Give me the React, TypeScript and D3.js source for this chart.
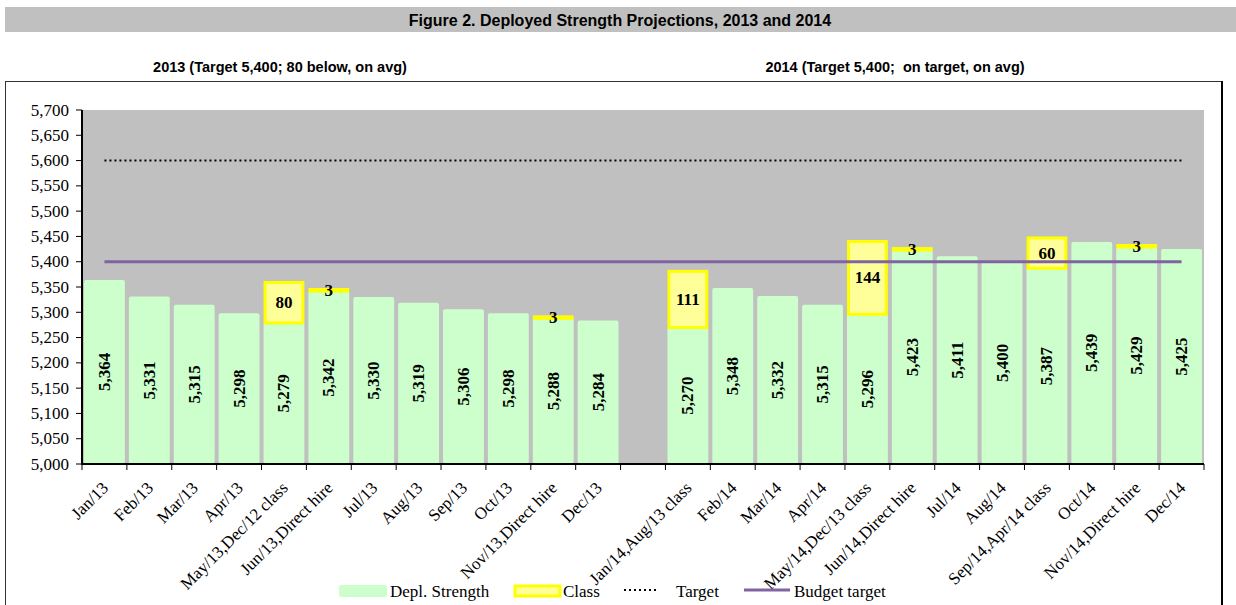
import React from 'react';
import * as d3 from 'd3';

// 2013 and 2014 months, with an empty slot between the two years
const months2013 = ['Jan/13', 'Feb/13', 'Mar/13', 'Apr/13', 'May/13,Dec/12 class', 'Jun/13,Direct hire', 'Jul/13', 'Aug/13', 'Sep/13', 'Oct/13', 'Nov/13,Direct hire', 'Dec/13'];
const months2014 = ['Jan/14,Aug/13 class', 'Feb/14', 'Mar/14', 'Apr/14', 'May/14,Dec/13 class', 'Jun/14,Direct hire', 'Jul/14', 'Aug/14', 'Sep/14,Apr/14 class', 'Oct/14', 'Nov/14,Direct hire', 'Dec/14'];
const strength2013 = [5364, 5331, 5315, 5298, 5279, 5342, 5330, 5319, 5306, 5298, 5288, 5284];
const strength2014 = [5270, 5348, 5332, 5315, 5296, 5423, 5411, 5400, 5387, 5439, 5429, 5425];
const class2013 = [0, 0, 0, 0, 80, 3, 0, 0, 0, 0, 3, 0];
const class2014 = [111, 0, 0, 0, 144, 3, 0, 0, 60, 0, 3, 0];
const TARGET = 5600;
const BUDGET = 5400;
const yTicks = [5000, 5050, 5100, 5150, 5200, 5250, 5300, 5350, 5400, 5450, 5500, 5550, 5600, 5650, 5700];

const C = { green: '#CCFFCC', yellowFill: '#FFFF99', yellow: '#FFFF00', plot: '#C0C0C0', purple: '#8064A2' };
const SERIF = '"Liberation Serif", "Times New Roman", serif';
const SANS = '"Liberation Sans", Arial, sans-serif';

type Row = { key: string; label: string; strength: number | null; cls: number };
const rows: Row[] = [
  ...months2013.map((m, i) => ({ key: 'a' + i, label: m, strength: strength2013[i], cls: class2013[i] })),
  { key: 'gap', label: '', strength: null, cls: 0 },
  ...months2014.map((m, i) => ({ key: 'b' + i, label: m, strength: strength2014[i], cls: class2014[i] })),
];

export default function App() {
  const W = 1236, H = 605;
  const L = 82, R = 1204, T = 110, B = 464;
  const x = d3.scaleBand().domain(rows.map(r => r.key)).range([L, R]).paddingInner(0.09).paddingOuter(0.045);
  const y = d3.scaleLinear().domain([5000, 5700]).range([B, T]);
  const step = x.step();
  const cx = (k: string) => (x(k) as number) + x.bandwidth() / 2;
  const firstC = cx(rows[0].key), lastC = cx(rows[rows.length - 1].key);
  const bounds = d3.range(rows.length + 1).map(i => L + i * step);
  const fmt = d3.format(',');

  return (
    <svg width={W} height={H} style={{ position: 'absolute', left: 0, top: 0, background: '#fff' }}>
      {/* title banner */}
      <rect x={5} y={7} width={W - 5} height={25} fill={C.plot} />
      <text x={620} y={25.5} textAnchor="middle" fontFamily={SANS} fontWeight="bold" fontSize={16}>
        Figure 2. Deployed Strength Projections, 2013 and 2014
      </text>
      <text x={280} y={72} textAnchor="middle" fontFamily={SANS} fontWeight="bold" fontSize={14.5}>2013 (Target 5,400; 80 below, on avg)</text>
      <text x={895} y={72} textAnchor="middle" fontFamily={SANS} fontWeight="bold" fontSize={14.5} style={{ whiteSpace: 'pre' }}>2014 (Target 5,400;  on target, on avg)</text>

      {/* outer frame */}
      <rect x={5.5} y={81.5} width={1216} height={H} fill="none" stroke="#333" strokeWidth={1} />
      <line x1={1222} x2={1222} y1={81} y2={H} stroke="#000" strokeWidth={2} />

      {/* plot area */}
      <rect x={L} y={T} width={R - L} height={B - T} fill={C.plot} />

      {rows.map(r => r.strength === null ? null : (
        <g key={r.key}>
          <rect x={x(r.key)} y={y(r.strength)} width={x.bandwidth()} height={B - y(r.strength)} fill={C.green} rx={2} />
          <text transform={`translate(${cx(r.key)},${(y(r.strength) + B) / 2}) rotate(-90)`} textAnchor="middle" dominantBaseline="central"
            fontFamily={SERIF} fontWeight="bold" fontSize={17}>{fmt(r.strength)}</text>
        </g>
      ))}
      {rows.map(r => r.strength === null || !r.cls ? null : (
        <g key={'c' + r.key}>
          <rect x={(x(r.key) as number) + 1.5} y={y(r.strength + r.cls)} width={x.bandwidth() - 3} height={y(r.strength) - y(r.strength + r.cls)}
            fill={C.yellowFill} stroke={C.yellow} strokeWidth={3} />
          <text x={cx(r.key)} y={y(r.strength + r.cls / 2)} textAnchor="middle" dominantBaseline="central"
            fontFamily={SERIF} fontWeight="bold" fontSize={17}>{r.cls}</text>
        </g>
      ))}

      {/* target lines */}
      <line x1={firstC} x2={lastC} y1={y(TARGET)} y2={y(TARGET)} stroke="#000" strokeWidth={2} strokeDasharray="2,3" />
      <line x1={firstC} x2={lastC} y1={y(BUDGET)} y2={y(BUDGET)} stroke={C.purple} strokeWidth={3} />

      {/* y axis */}
      <line x1={L} x2={L} y1={T} y2={B + 1} stroke="#000" strokeWidth={2} />
      {yTicks.map(t => (
        <g key={t}>
          <line x1={L - 6} x2={L} y1={y(t)} y2={y(t)} stroke="#000" />
          <text x={L - 13} y={y(t)} textAnchor="end" dominantBaseline="central" fontFamily={SERIF} fontSize={17}>{fmt(t)}</text>
        </g>
      ))}

      {/* x axis */}
      <line x1={L} x2={R} y1={B} y2={B} stroke="#000" strokeWidth={2} />
      {bounds.map((b, i) => <line key={i} x1={b} x2={b} y1={B} y2={B + 6} stroke="#000" />)}
      {rows.map(r => r.label ? (
        <text key={'l' + r.key} transform={`translate(${cx(r.key) + 1},${B + 21}) rotate(-45)`} textAnchor="end" dominantBaseline="central"
          fontFamily={SERIF} fontSize={17}>{r.label}</text>
      ) : null)}

      {/* legend */}
      <g fontFamily={SERIF} fontSize={17}>
        <rect x={339} y={585} width={48} height={12} fill={C.green} rx={2} />
        <text x={390} y={597}>Depl. Strength</text>
        <rect x={515} y={586} width={45} height={10} fill={C.yellowFill} stroke={C.yellow} strokeWidth={3} />
        <text x={563} y={597}>Class</text>
        <line x1={624} x2={658} y1={590} y2={590} stroke="#000" strokeWidth={2} strokeDasharray="2,3" />
        <text x={676} y={597}>Target</text>
        <line x1={744} x2={790} y1={590} y2={590} stroke={C.purple} strokeWidth={3} />
        <text x={794} y={597}>Budget target</text>
      </g>
    </svg>
  );
}
